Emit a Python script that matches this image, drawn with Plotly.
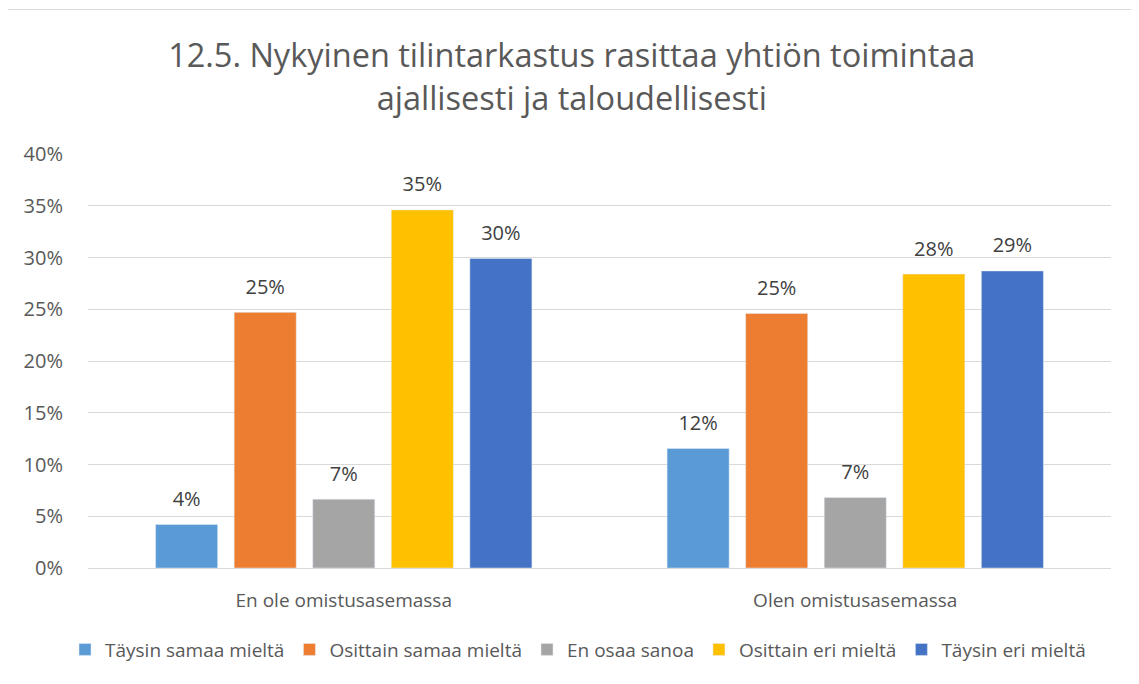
import plotly.graph_objects as go

groups = ['En ole omistusasemassa', 'Olen omistusasemassa']
answers = ['Täysin samaa mieltä', 'Osittain samaa mieltä', 'En osaa sanoa',
           'Osittain eri mieltä', 'Täysin eri mieltä']
colors = ['#5b9bd5', '#ed7d31', '#a5a5a5', '#ffc000', '#4472c4']

# share of respondents, percent
taysin_samaa = [4.2, 11.55]
osittain_samaa = [24.7, 24.6]
en_osaa = [6.65, 6.8]
osittain_eri = [34.6, 28.4]
taysin_eri = [29.9, 28.7]

values = [taysin_samaa, osittain_samaa, en_osaa, osittain_eri, taysin_eri]

font = 'Open Sans'

fig = go.Figure()
for k, (name, vals, col) in enumerate(zip(answers, values, colors)):
    fig.add_trace(go.Bar(
        x=groups,
        y=vals,
        name=name,
        marker_color=col,
        offsetgroup=str(k),
    ))
    # labels as grouped scatter text, so they can sit a bit higher above the bars
    fig.add_trace(go.Scatter(
        x=groups,
        y=vals,
        mode='markers+text',
        marker=dict(size=20, opacity=0),
        text=['%d%%' % round(v) for v in vals],
        textposition='top center',
        textfont=dict(size=20, color='#404040', family=font),
        offsetgroup=str(k),
        showlegend=False,
        hoverinfo='skip',
        cliponaxis=False,
    ))

fig.update_layout(
    width=1123, height=668,
    margin=dict(l=80, r=20, t=146, b=108, autoexpand=False),
    paper_bgcolor='white',
    plot_bgcolor='white',
    barmode='group',
    scattermode='group',
    bargap=0.232,
    scattergap=0.232,
    bargroupgap=0.21,
    title=dict(
        text='12.5. Nykyinen tilintarkastus rasittaa yhtiön toimintaa<br>ajallisesti ja taloudellisesti',
        x=0.502, xanchor='center', y=0.911, yanchor='middle',
        font=dict(size=32.5, color='#595959', family=font),
    ),
    legend=dict(
        orientation='h', x=0.479, xanchor='center', y=-0.197, yanchor='middle',
        font=dict(size=19, color='#595959', family=font),
        itemwidth=30, tracegroupgap=0,
    ),
    font=dict(family=font, color='#595959'),
    shapes=[dict(
        type='rect', xref='paper', yref='paper',
        x0=-0.0802, x1=1.2, y0=-0.5, y1=1.349,
        line=dict(color='#d9d9d9', width=1), layer='below',
    )],
)

fig.update_yaxes(
    range=[0, 40], dtick=5, ticksuffix='%',
    gridcolor='#d9d9d9', gridwidth=1, zeroline=False,
    showline=False, ticks='', ticklabelstandoff=24,
    tickfont=dict(size=20, color='#595959', family=font),
)
fig.update_xaxes(
    showline=True, linecolor='#d9d9d9', linewidth=1,
    ticks='', ticklabelstandoff=15,
    tickfont=dict(size=19, color='#595959', family=font),
)

fig.write_html('out.html')
